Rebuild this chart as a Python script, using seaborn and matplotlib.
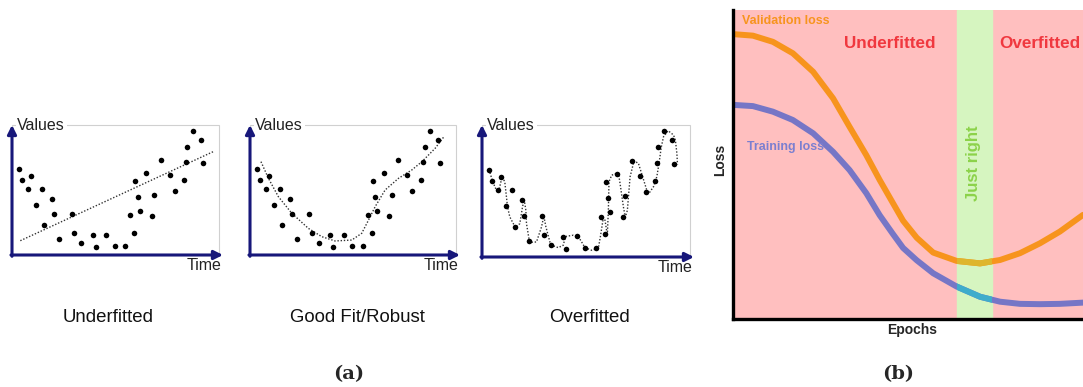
import numpy as np
import pandas as pd
import seaborn as sns
import matplotlib.pyplot as plt

# data (panel a: 0-100 time / value units)
time_pts = [3.2, 4.8, 7.5, 9.3, 11.6, 14.3, 15.6, 19.3, 20.1, 22.6, 28.7, 29.9, 33.2, 38.8, 40.3, 45.3,
            49.4, 54.4, 56.8, 58.9, 59.4, 60.5, 61.5, 64.7, 67.4, 68.4, 71.7, 75.8, 78.3, 82.7, 83.6,
            84.4, 87.2, 90.9, 91.8]
value_pts = [65.9, 57.7, 50.8, 60.5, 38.5, 50.5, 23.1, 43.3, 31.3, 12.1, 31.3, 16.9, 9.2, 15.4, 6.4, 15.6,
             6.9, 6.7, 30.5, 17.2, 56.7, 44.4, 33.8, 62.8, 30.3, 45.9, 72.8, 61.3, 49.0, 57.9, 71.5,
             83.3, 95.6, 88.7, 70.5]

trend_time = [4.0, 96.8]
trend_value = [11.0, 79.5]

fit_time = [5.3, 8.9, 13.7, 20.2, 28.2, 34.7, 41.1, 49.2, 54.0, 57.3, 60.5, 65.3, 71.8, 78.2, 83.1, 89.5, 93.5]
fit_value = [71.8, 59.0, 44.9, 32.1, 20.5, 14.1, 10.8, 11.5, 16.7, 26.9, 37.2, 50.0, 59.0, 65.4, 71.8, 82.1, 90.5]

over_time = [3.4, 5.0, 6.9, 8.2, 9.6, 10.9, 11.7, 12.2, 13.3, 16.0, 18.1, 19.4, 20.2, 21.0, 21.3, 22.6, 23.2,
             26.1, 28.5, 29.6, 30.6, 32.5, 33.9, 36.5, 38.9, 39.7, 40.5, 43.7, 46.2, 47.7, 49.3, 52.5, 55.7,
             56.8, 58.1, 58.9, 60.0, 60.5, 60.8, 62.1, 65.3, 66.1, 67.7, 68.6, 69.6, 70.9, 72.8, 74.9, 76.8,
             78.9, 80.0, 82.1, 83.7, 84.8, 85.8, 86.9, 89.1, 91.7, 92.6, 93.3, 93.6]
over_value = [66.3, 57.5, 50.6, 51.1, 60.8, 57.0, 45.6, 38.2, 30.4, 22.3, 25.3, 38.0, 43.5, 35.4, 25.3, 12.7,
              11.1, 11.4, 22.8, 30.9, 22.8, 11.4, 8.6, 7.1, 8.9, 13.9, 15.7, 16.5, 15.2, 11.4, 7.1, 5.1, 6.6,
              16.5, 29.9, 27.8, 16.5, 35.4, 57.0, 62.0, 63.8, 55.7, 38.0, 30.1, 35.4, 60.8, 72.9, 70.9, 61.3,
              50.6, 48.4, 53.2, 60.8, 71.4, 83.0, 91.1, 95.7, 92.4, 88.4, 78.5, 70.1]

captions = ['Underfitted', 'Good Fit/Robust', 'Overfitted']

# panel b: loss curves (0-100 units)
epochs = [0.0, 5.7, 11.4, 17.1, 22.9, 28.6, 33.3, 38.1, 41.9, 45.7, 48.6, 52.5, 57.2, 63.9, 70.6, 76.3,
          82.0, 87.7, 93.4, 100.0]
val_loss = [92.2, 91.7, 89.7, 86.0, 80.0, 71.4, 62.2, 53.0, 45.0, 37.5, 31.8, 26.3, 21.5, 18.8, 18.0, 19.1,
            21.3, 24.5, 28.3, 33.7]
train_loss = [69.3, 68.9, 67.1, 64.4, 60.1, 54.1, 48.2, 40.7, 33.6, 27.5, 23.0, 19.0, 14.8, 10.5, 7.2, 5.6,
              4.9, 4.8, 4.9, 5.3]
just_right = (64.0, 74.0)

W, H = 1083, 387
sns.set_style('white')
plt.rcParams['font.family'] = ['Liberation Sans', 'DejaVu Sans']

fig = plt.figure(figsize=(W / 100, H / 100), dpi=100)


def px_rect(l, r, top, bottom):
    return [l / W, (H - bottom) / H, (r - l) / W, (bottom - top) / H]


navy = '#17177a'
panels = [
    (px_rect(12, 223, 125, 255), trend_time, trend_value, False),
    (px_rect(250, 460, 125, 255), fit_time, fit_value, False),
    (px_rect(482, 694, 125, 257), over_time, over_value, True),
]

for rect, lx, ly, nosort in panels:
    ax = fig.add_axes(rect)
    df_line = pd.DataFrame({'t': lx, 'v': ly})
    sns.lineplot(data=df_line, x='t', y='v', sort=not nosort, estimator=None, color='#333333',
                 lw=1.0, linestyle=(0, (1, 1.3)), ax=ax)
    sns.scatterplot(x=time_pts, y=value_pts, color='black', s=16, linewidth=0, ax=ax, zorder=3)
    ax.set_xlim(0, 101.5)
    ax.set_ylim(0, 100)
    ax.set_xlabel('')
    ax.set_ylabel('')
    ax.set_xticks([])
    ax.set_yticks([])
    for s in ax.spines.values():
        s.set_visible(False)
    # light frame
    ax.add_patch(plt.Rectangle((0, 0), 0.98, 1, transform=ax.transAxes, fill=False,
                               edgecolor='#d0d0d0', lw=0.8, clip_on=False, zorder=1))
    ax.annotate('', xy=(0, 1.0), xytext=(0, -0.01), xycoords='axes fraction',
                arrowprops=dict(arrowstyle='-|>', color=navy, lw=2.2, mutation_scale=13,
                                shrinkA=0, shrinkB=0), zorder=5)
    ax.annotate('', xy=(1.0, 0), xytext=(-0.005, 0), xycoords='axes fraction',
                arrowprops=dict(arrowstyle='-|>', color=navy, lw=2.2, mutation_scale=13,
                                shrinkA=0, shrinkB=0), zorder=5)
    ax.text(0.025, 1.0, 'Values', transform=ax.transAxes, ha='left', va='center', fontsize=11.5,
            color='#222222', bbox=dict(boxstyle='square,pad=0.1', fc='white', ec='none'), zorder=4)
    ax.text(0.995, -0.078, 'Time', transform=ax.transAxes, ha='right', va='center', fontsize=11.5,
            color='#222222')

for cap, cx in zip(captions, [108, 357, 590]):
    fig.text(cx / W, 1 - 318 / H, cap, ha='center', va='center', fontsize=13.4, color='#111111')

fig.text(349 / W, 1 - 374 / H, '(a)', ha='center', va='center', fontsize=14,
         family=['DejaVu Serif'], fontweight='bold')
fig.text(898 / W, 1 - 374 / H, '(b)', ha='center', va='center', fontsize=14,
         family=['DejaVu Serif'], fontweight='bold')

# panel b
bx = fig.add_axes(px_rect(733, 1083, 10, 319))
bx.set_facecolor('#ffbfbf')
bx.axvspan(*just_right, color='#d6f5c0', zorder=1)
orange, blue = '#f7941d', '#7676c6'
sns.lineplot(x=epochs, y=val_loss, color=orange, lw=4.3, ax=bx, zorder=3)
sns.lineplot(x=epochs, y=train_loss, color=blue, lw=4.3, ax=bx, zorder=3)
# curves recoloured inside the "just right" band
for yv, c in [(val_loss, '#deb52c'), (train_loss, '#3eaccb')]:
    ln, = bx.plot(epochs, yv, color=c, lw=4.3, zorder=4)
    ln.set_clip_path(plt.Rectangle((just_right[0], 0), just_right[1] - just_right[0], 100,
                                   transform=bx.transData))
for ln in bx.lines:
    ln.set_solid_joinstyle('round')
bx.set_xlim(0, 100)
bx.set_ylim(0, 100)
bx.set_xticks([])
bx.set_yticks([])
for side in ['top', 'right']:
    bx.spines[side].set_visible(False)
for side in ['left', 'bottom']:
    bx.spines[side].set_color('black')
    bx.spines[side].set_linewidth(2.4)
    bx.spines[side].set_zorder(6)

bx.text(2.6, 96.4, 'Validation loss', color=orange, fontsize=8.9, fontweight='bold', ha='left', va='center')
bx.text(4.0, 55.7, 'Training loss', color='#7b7fd0', fontsize=8.9, fontweight='bold', ha='left', va='center')
bx.text(44.7, 89.3, 'Underfitted', color='#f0383f', fontsize=12.3, fontweight='bold', ha='center', va='center')
bx.text(87.7, 89.3, 'Overfitted', color='#f0383f', fontsize=12.3, fontweight='bold', ha='center', va='center')
bx.text(68.8, 50.5, 'Just right', color='#8cd24a', fontsize=12, fontweight='bold', ha='center', va='center',
        rotation=90, zorder=5)
bx.text(-0.037, 0.515, 'Loss', transform=bx.transAxes, rotation=90, fontsize=10, fontweight='bold',
        ha='center', va='center')
bx.text(0.511, -0.036, 'Epochs', transform=bx.transAxes, fontsize=10, fontweight='bold',
        ha='center', va='center')

fig.savefig('out.png', dpi=100)
